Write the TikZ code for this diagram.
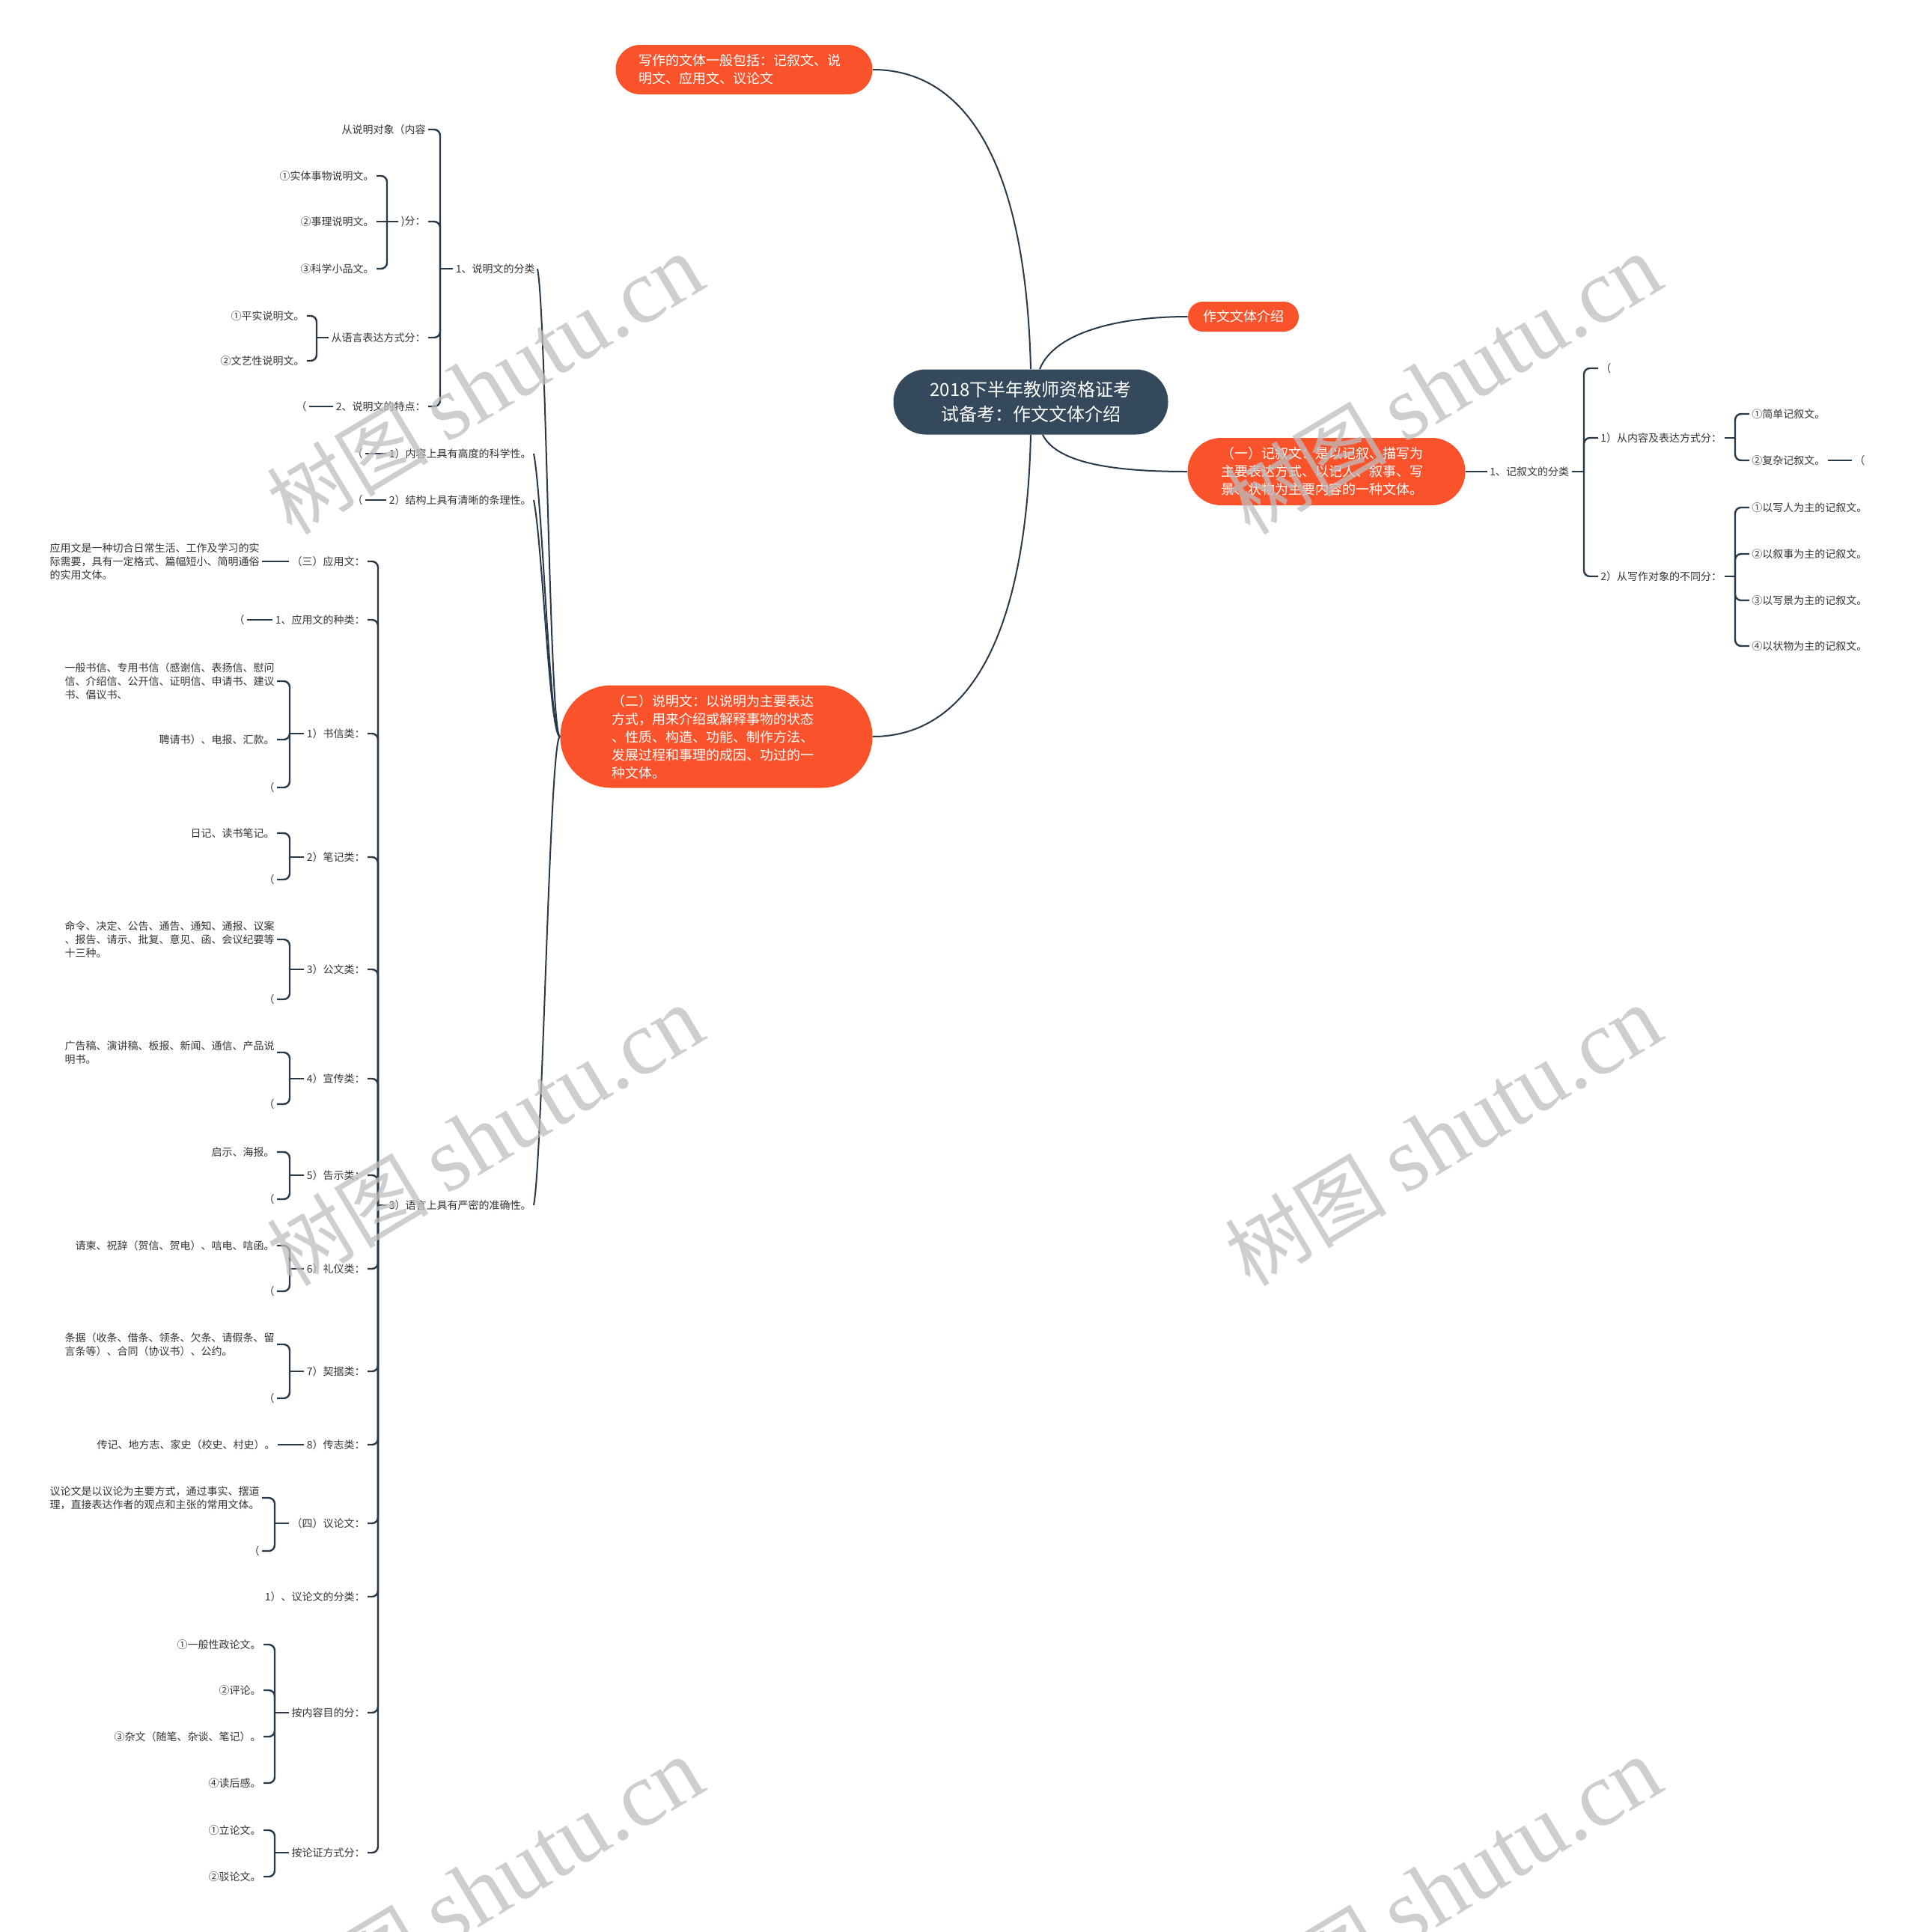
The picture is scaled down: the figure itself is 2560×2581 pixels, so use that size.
\documentclass[tikz,border=0pt]{standalone}
\usepackage{fontspec}
\setmainfont{Noto Sans CJK SC}
\newfontfamily\wmfont{Liberation Serif}
\definecolor{rootfill}{RGB}{53,73,92}
\definecolor{topicfill}{RGB}{250,82,42}
\definecolor{linecol}{RGB}{40,58,74}
\definecolor{leafcol}{RGB}{51,51,51}
\definecolor{wmgray}{RGB}{190,190,190}
\begin{document}
\begin{tikzpicture}[x=0.5pt, y=-0.5pt,
		centre/.style={fill=rootfill, text=white, align=center, font=\fontsize{12}{16.5}\selectfont, minimum width=183.5pt, minimum height=43.5pt, rounded corners=21.6pt},
		topic/.style={fill=topicfill, text=white, align=left, font=\fontsize{9}{12}\selectfont},
		leaf/.style={text=leafcol, align=left, font=\fontsize{7}{9}\selectfont, inner sep=1.5pt},
		branch/.style={draw=linecol, line width=1pt},
		stem/.style={draw=linecol, line width=1.2pt},
		brk/.style={draw=linecol, line width=1.2pt, rounded corners=4pt},
		wm/.style={text=wmgray, text opacity=0.75, rotate=31, inner sep=0pt, font=\fontsize{54}{54}\selectfont}]
	\useasboundingbox (0,0) rectangle (2560,2581);
	
	% 1. 中心主题与四个一级分支
	\node[centre] (root) at (1377,537) {2018下半年教师资格证考\\试备考：作文文体介绍};
	\node[topic, text width=141pt, minimum width=171.5pt, minimum height=33pt, rounded corners=16.4pt] (genre) at (994,93) {写作的文体一般包括：记叙文、说\\明文、应用文、议论文};
	\node[topic, minimum width=74pt, minimum height=20pt, rounded corners=9.9pt] (intro) at (1661,423) {作文文体介绍};
	\node[topic, text width=141pt, minimum width=185.5pt, minimum height=45pt, rounded corners=22.4pt] (narr) at (1772,630) {（一）记叙文：是以记叙、描写为\\主要表达方式、以记人、叙事、写\\景、状物为主要内容的一种文体。};
	\node[topic, text width=140pt, minimum width=208.5pt, minimum height=68.5pt, rounded corners=34pt] (expo) at (957,984) {（二）说明文：以说明为主要表达\\方式，用来介绍或解释事物的状态\\、性质、构造、功能、制作方法、\\发展过程和事理的成因、功过的一\\种文体。};
	
	\draw[branch] (root.north) .. controls +(-7,-295) and +(114,0) .. (genre.east);
	\draw[branch] ([xshift=6pt]root.north) .. controls +(20,-50) and +(-90,0) .. (intro.west);
	\draw[branch] ([xshift=8pt]root.south) .. controls +(20,40) and +(-90,0) .. (narr.west);
	\draw[branch] (root.south) .. controls +(-7,295) and +(114,0) .. (expo.east);
	
	% 2. 记叙文的分类（右侧）
	\node[leaf, anchor=west] (ncls) at (1987,630) {1、记叙文的分类};
	\coordinate (r1) at (2116,630);
	\node[leaf, anchor=west] (np0) at (2135,492) {（};
	\node[leaf, anchor=west] (np1) at (2135,585) {1）从内容及表达方式分：};
	\node[leaf, anchor=west] (np2) at (2135,770) {2）从写作对象的不同分：};
	\coordinate (r2) at (2318,585);
	\node[leaf, anchor=west] (na1) at (2337,553) {①简单记叙文。};
	\node[leaf, anchor=west] (na2) at (2337,615) {②复杂记叙文。};
	\node[leaf, anchor=west] (na3) at (2474,615) {（};
	\coordinate (r3) at (2318,770);
	\node[leaf, anchor=west] (nb1) at (2337,678) {①以写人为主的记叙文。};
	\node[leaf, anchor=west] (nb2) at (2337,740) {②以叙事为主的记叙文。};
	\node[leaf, anchor=west] (nb3) at (2337,802) {③以写景为主的记叙文。};
	\node[leaf, anchor=west] (nb4) at (2337,863) {④以状物为主的记叙文。};
	
	\draw[stem] (narr.east) -- (ncls.west);
	\draw[stem] (ncls.east) -- (r1);
	\draw[brk] (r1) |- (np0.west);
	\draw[brk] (r1) |- (np1.west);
	\draw[brk] (r1) |- (np2.west);
	\draw[stem] (np1.east) -- (r2);
	\draw[brk] (r2) |- (na1.west);
	\draw[brk] (r2) |- (na2.west);
	\draw[stem] (na2.east) -- (na3.west);
	\draw[stem] (np2.east) -- (r3);
	\draw[brk] (r3) |- (nb1.west);
	\draw[brk] (r3) |- (nb2.west);
	\draw[brk] (r3) |- (nb3.west);
	\draw[brk] (r3) |- (nb4.west);
	
	% 3. 说明文的分类与特点（左上）
	\node[leaf, anchor=east] (ecls) at (718,359) {1、说明文的分类};
	\node[leaf, anchor=east] (ef1) at (713,606) {1）内容上具有高度的科学性。};
	\node[leaf, anchor=east] (ef2) at (713,668) {2）结构上具有清晰的条理性。};
	\node[leaf, anchor=east] (ef3) at (713,1610) {3）语言上具有严密的准确性。};
	\node[leaf, anchor=east] (ef1p) at (488,606) {（};
	\node[leaf, anchor=east] (ef2p) at (488,668) {（};
	
	\draw[branch] (expo.west) .. controls +(-14,0) and +(12,60) .. (ecls.east);
	\draw[branch] (expo.west) .. controls +(-14,0) and +(12,60) .. (ef1.east);
	\draw[branch] (expo.west) .. controls +(-14,0) and +(12,60) .. (ef2.east);
	\draw[branch] (expo.west) .. controls +(-14,0) and +(12,-60) .. (ef3.east);
	\draw[stem] (ef1.west) -- (ef1p.east);
	\draw[stem] (ef2.west) -- (ef2p.east);
	
	\coordinate (x1) at (588,359);
	\node[leaf, anchor=east] (ok1) at (572,173) {从说明对象（内容};
	\node[leaf, anchor=east] (ok2) at (572,296) {)分：};
	\node[leaf, anchor=east] (ok3) at (572,451) {从语言表达方式分：};
	\node[leaf, anchor=east] (ok4) at (572,543) {2、说明文的特点：};
	\node[leaf, anchor=east] (ok4p) at (413,543) {（};
	\coordinate (x2) at (517,296);
	\node[leaf, anchor=east] (oa1) at (503,235) {①实体事物说明文。};
	\node[leaf, anchor=east] (oa2) at (503,296) {②事理说明文。};
	\node[leaf, anchor=east] (oa3) at (503,359) {③科学小品文。};
	\coordinate (x3) at (423,451);
	\node[leaf, anchor=east] (ob1) at (410,422) {①平实说明文。};
	\node[leaf, anchor=east] (ob2) at (410,482) {②文艺性说明文。};
	
	\draw[stem] (ecls.west) -- (x1);
	\draw[brk] (x1) |- (ok1.east);
	\draw[brk] (x1) |- (ok2.east);
	\draw[brk] (x1) |- (ok3.east);
	\draw[brk] (x1) |- (ok4.east);
	\draw[stem] (ok4.west) -- (ok4p.east);
	\draw[stem] (ok2.west) -- (x2);
	\draw[brk] (x2) |- (oa1.east);
	\draw[stem] (x2) -- (oa2.east);
	\draw[brk] (x2) |- (oa3.east);
	\draw[stem] (ok3.west) -- (x3);
	\draw[brk] (x3) |- (ob1.east);
	\draw[brk] (x3) |- (ob2.east);
	
	% 4. 语言准确性下的应用文、议论文（左侧长列）
	\coordinate (x4) at (505,1610);
	\node[leaf, anchor=east] (app) at (491,750) {（三）应用文：};
	\node[leaf, anchor=east] (kinds) at (491,828) {1、应用文的种类：};
	\node[leaf, anchor=east] (letter) at (491,980) {1）书信类：};
	\node[leaf, anchor=east] (note) at (491,1145) {2）笔记类：};
	\node[leaf, anchor=east] (docs) at (491,1295) {3）公文类：};
	\node[leaf, anchor=east] (promo) at (491,1441) {4）宣传类：};
	\node[leaf, anchor=east] (notice) at (491,1570) {5）告示类：};
	\node[leaf, anchor=east] (rite) at (491,1695) {6）礼仪类：};
	\node[leaf, anchor=east] (deed) at (491,1832) {7）契据类：};
	\node[leaf, anchor=east] (annal) at (491,1930) {8）传志类：};
	\node[leaf, anchor=east] (argu) at (491,2035) {（四）议论文：};
	\node[leaf, anchor=east] (argcls) at (491,2133) {1）、议论文的分类：};
	\node[leaf, anchor=east] (bypurp) at (491,2288) {按内容目的分：};
	\node[leaf, anchor=east] (bymeth) at (491,2475) {按论证方式分：};
	
	\draw[stem] (ef3.west) -- (x4);
	\draw[brk] (x4) |- (app.east);
	\draw[brk] (x4) |- (kinds.east);
	\draw[brk] (x4) |- (letter.east);
	\draw[brk] (x4) |- (note.east);
	\draw[brk] (x4) |- (docs.east);
	\draw[brk] (x4) |- (promo.east);
	\draw[brk] (x4) |- (notice.east);
	\draw[brk] (x4) |- (rite.east);
	\draw[brk] (x4) |- (deed.east);
	\draw[brk] (x4) |- (annal.east);
	\draw[brk] (x4) |- (argu.east);
	\draw[brk] (x4) |- (argcls.east);
	\draw[brk] (x4) |- (bypurp.east);
	\draw[brk] (x4) |- (bymeth.east);
	
	\node[leaf, anchor=east] (appdef) at (350,750) {应用文是一种切合日常生活、工作及学习的实\\际需要，具有一定格式、篇幅短小、简明通俗\\的实用文体。};
	\draw[stem] (app.west) -- (appdef.east);
	\node[leaf, anchor=east] (kindsp) at (330,828) {（};
	\draw[stem] (kinds.west) -- (kindsp.east);
	
	\coordinate (kletter) at (387,980);
	\node[leaf, anchor=east] (letter1) at (370,910) {一般书信、专用书信（感谢信、表扬信、慰问\\信、介绍信、公开信、证明信、申请书、建议\\书、倡议书、};
	\node[leaf, anchor=east] (letter2) at (370,988) {聘请书）、电报、汇款。};
	\node[leaf, anchor=east] (letter3) at (370,1052) {（};
	\draw[stem] (letter.west) -- (kletter);
	\draw[brk] (kletter) |- (letter1.east);
	\draw[brk] (kletter) |- (letter2.east);
	\draw[brk] (kletter) |- (letter3.east);
	
	\coordinate (knote) at (387,1145);
	\node[leaf, anchor=east] (note1) at (370,1113) {日记、读书笔记。};
	\node[leaf, anchor=east] (note2) at (370,1175) {（};
	\draw[stem] (note.west) -- (knote);
	\draw[brk] (knote) |- (note1.east);
	\draw[brk] (knote) |- (note2.east);
	
	\coordinate (kdocs) at (387,1295);
	\node[leaf, anchor=east] (docs1) at (370,1255) {命令、决定、公告、通告、通知、通报、议案\\、报告、请示、批复、意见、函、会议纪要等\\十三种。};
	\node[leaf, anchor=east] (docs2) at (370,1335) {（};
	\draw[stem] (docs.west) -- (kdocs);
	\draw[brk] (kdocs) |- (docs1.east);
	\draw[brk] (kdocs) |- (docs2.east);
	
	\coordinate (kpromo) at (387,1441);
	\node[leaf, anchor=east] (promo1) at (370,1406) {广告稿、演讲稿、板报、新闻、通信、产品说\\明书。};
	\node[leaf, anchor=east] (promo2) at (370,1475) {（};
	\draw[stem] (promo.west) -- (kpromo);
	\draw[brk] (kpromo) |- (promo1.east);
	\draw[brk] (kpromo) |- (promo2.east);
	
	\coordinate (knotice) at (387,1570);
	\node[leaf, anchor=east] (notice1) at (370,1539) {启示、海报。};
	\node[leaf, anchor=east] (notice2) at (370,1602) {（};
	\draw[stem] (notice.west) -- (knotice);
	\draw[brk] (knotice) |- (notice1.east);
	\draw[brk] (knotice) |- (notice2.east);
	
	\coordinate (krite) at (387,1695);
	\node[leaf, anchor=east] (rite1) at (370,1664) {请柬、祝辞（贺信、贺电）、唁电、唁函。};
	\node[leaf, anchor=east] (rite2) at (370,1725) {（};
	\draw[stem] (rite.west) -- (krite);
	\draw[brk] (krite) |- (rite1.east);
	\draw[brk] (krite) |- (rite2.east);
	
	\coordinate (kdeed) at (387,1832);
	\node[leaf, anchor=east] (deed1) at (370,1796) {条据（收条、借条、领条、欠条、请假条、留\\言条等）、合同（协议书）、公约。};
	\node[leaf, anchor=east] (deed2) at (370,1868) {（};
	\draw[stem] (deed.west) -- (kdeed);
	\draw[brk] (kdeed) |- (deed1.east);
	\draw[brk] (kdeed) |- (deed2.east);
	
	\node[leaf, anchor=east] (annal1) at (371,1930) {传记、地方志、家史（校史、村史）。};
	\draw[stem] (annal.west) -- (annal1.east);
	
	\coordinate (kargu) at (367,2035);
	\node[leaf, anchor=east] (argu1) at (350,2001) {议论文是以议论为主要方式，通过事实、摆道\\理，直接表达作者的观点和主张的常用文体。};
	\node[leaf, anchor=east] (argu2) at (350,2072) {（};
	\draw[stem] (argu.west) -- (kargu);
	\draw[brk] (kargu) |- (argu1.east);
	\draw[brk] (kargu) |- (argu2.east);
	
	\coordinate (kpurp) at (367,2288);
	\node[leaf, anchor=east] (purp1) at (352,2197) {①一般性政论文。};
	\node[leaf, anchor=east] (purp2) at (352,2258) {②评论。};
	\node[leaf, anchor=east] (purp3) at (352,2320) {③杂文（随笔、杂谈、笔记）。};
	\node[leaf, anchor=east] (purp4) at (352,2382) {④读后感。};
	\draw[stem] (bypurp.west) -- (kpurp);
	\draw[brk] (kpurp) |- (purp1.east);
	\draw[brk] (kpurp) |- (purp2.east);
	\draw[brk] (kpurp) |- (purp3.east);
	\draw[brk] (kpurp) |- (purp4.east);
	
	\coordinate (kmeth) at (367,2475);
	\node[leaf, anchor=east] (meth1) at (352,2445) {①立论文。};
	\node[leaf, anchor=east] (meth2) at (352,2507) {②驳论文。};
	\draw[stem] (bymeth.west) -- (kmeth);
	\draw[brk] (kmeth) |- (meth1.east);
	\draw[brk] (kmeth) |- (meth2.east);
	
	% 5. 水印
	\begin{scope}
		\clip (0,0) rectangle (2560,2581);
		\node[wm] (wm1) at (648,514) {树图 {\wmfont\fontsize{61}{61}\selectfont shutu.cn}};
		\node[wm] (wm2) at (1928,514) {树图 {\wmfont\fontsize{61}{61}\selectfont shutu.cn}};
		\node[wm] (wm3) at (648,1518) {树图 {\wmfont\fontsize{61}{61}\selectfont shutu.cn}};
		\node[wm] (wm4) at (1928,1518) {树图 {\wmfont\fontsize{61}{61}\selectfont shutu.cn}};
		\node[wm] (wm5) at (648,2522) {树图 {\wmfont\fontsize{61}{61}\selectfont shutu.cn}};
		\node[wm] (wm6) at (1928,2522) {树图 {\wmfont\fontsize{61}{61}\selectfont shutu.cn}};
	\end{scope}
\end{tikzpicture}
\end{document}
